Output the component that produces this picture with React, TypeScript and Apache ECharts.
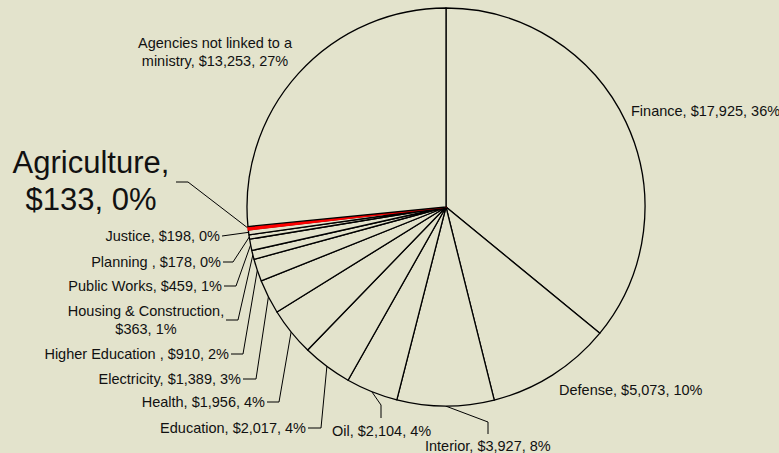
import React, { useEffect, useRef } from 'react';
import * as echarts from 'echarts';

// ---- data ----
const categories = [
  'Finance',
  'Defense',
  'Interior',
  'Oil',
  'Education',
  'Health',
  'Electricity',
  'Higher Education ',
  'Housing & Construction',
  'Public Works',
  'Planning ',
  'Justice',
  'Agriculture',
  'Agencies not linked to a ministry',
];
const values = [17925, 5073, 3927, 2104, 2017, 1956, 1389, 910, 363, 459, 178, 198, 133, 13253];
const highlighted = ['Agriculture'];

// ---- styles / layout (not data) ----
const BG = '#E3E3CC';
const TEXT = '#111';
const lineBreaks: Record<string, string> = {
  'Housing & Construction': 'Construction, ',
  Agriculture: 'Agriculture, ',
  'Agencies not linked to a ministry': 'to a ',
};
const bigLabels = ['Agriculture'];
const noLeader = ['Finance', 'Defense', 'Agencies not linked to a ministry'];
type Place = { x: number; y: number; align: 'left' | 'right' | 'center'; bends?: number[][] };
const placements: Place[] = [
  { x: 631, y: 111, align: 'left' },
  { x: 559, y: 390, align: 'left' },
  { x: 425, y: 446, align: 'left', bends: [[488, 422], [488, 434]] },
  { x: 332, y: 431, align: 'left', bends: [[381, 405], [381, 418]] },
  { x: 306, y: 428, align: 'right', bends: [[321, 428], [308, 428]] },
  { x: 265, y: 402, align: 'right', bends: [[279, 402], [267, 402]] },
  { x: 241, y: 379, align: 'right', bends: [[256, 379], [243, 379]] },
  { x: 229, y: 354, align: 'right', bends: [[243, 354], [231, 354]] },
  { x: 146, y: 320, align: 'center', bends: [[238, 320], [226, 320]] },
  { x: 222, y: 286, align: 'right', bends: [[236, 286], [224, 286]] },
  { x: 221, y: 262, align: 'right', bends: [[233, 262], [223, 262]] },
  { x: 220, y: 236, align: 'right', bends: [[222, 236]] },
  { x: 91, y: 181, align: 'center', bends: [[188, 182], [176, 182]] },
  { x: 215, y: 52, align: 'center' },
];

export default function App() {
  const ref = useRef<HTMLDivElement>(null);
  useEffect(() => {
    if (!ref.current) return;
    const chart = echarts.init(ref.current, undefined, { renderer: 'svg' });
    const total = values.reduce((a, b) => a + b, 0);
    const data = categories.map((name, i) => {
      const big = bigLabels.includes(name);
      const hl = highlighted.includes(name);
      return {
        name,
        value: values[i],
        itemStyle: hl
          ? { color: '#FF0000', borderColor: '#FF0000', borderWidth: 1.6 }
          : { color: BG },
        label: big ? { fontSize: 31, lineHeight: 37 } : {},
        labelLine: { show: !noLeader.includes(name) },
      };
    });
    chart.setOption({
      animation: false,
      backgroundColor: BG,
      series: [
        {
          type: 'pie',
          center: [446, 207],
          radius: 199,
          startAngle: 90,
          clockwise: true,
          avoidLabelOverlap: false,
          percentPrecision: 4,
          itemStyle: { borderColor: '#000', borderWidth: 1.3 },
          emphasis: { disabled: true },
          label: {
            show: true,
            position: 'outside',
            overflow: 'none',
            color: TEXT,
            fontFamily: 'Liberation Sans, Arial, sans-serif',
            fontSize: 14.5,
            lineHeight: 18,
            formatter: (p: any) => {
              const pct = Math.round((p.value / total) * 100);
              let s = `${p.name}, $${Number(p.value).toLocaleString('en-US')}, ${pct}%`;
              const b = lineBreaks[p.name];
              if (b) s = s.replace(b, b.trimEnd() + '\n');
              return s;
            },
          },
          labelLine: { show: true, lineStyle: { color: '#000', width: 1 } },
          labelLayout: (params: any) => {
            const pl = placements[params.dataIndex];
            const p0 = params.labelLinePoints ? params.labelLinePoints[0] : null;
            const out: any = { x: pl.x, y: pl.y, align: pl.align, verticalAlign: 'middle' };
            if (p0 && pl.bends) out.labelLinePoints = [p0, ...pl.bends];
            return out;
          },
          data,
        },
      ],
    });
    return () => chart.dispose();
  }, []);
  return (
    <div
      ref={ref}
      style={{ position: 'fixed', left: 0, top: 0, width: 779, height: 453 }}
    />
  );
}
